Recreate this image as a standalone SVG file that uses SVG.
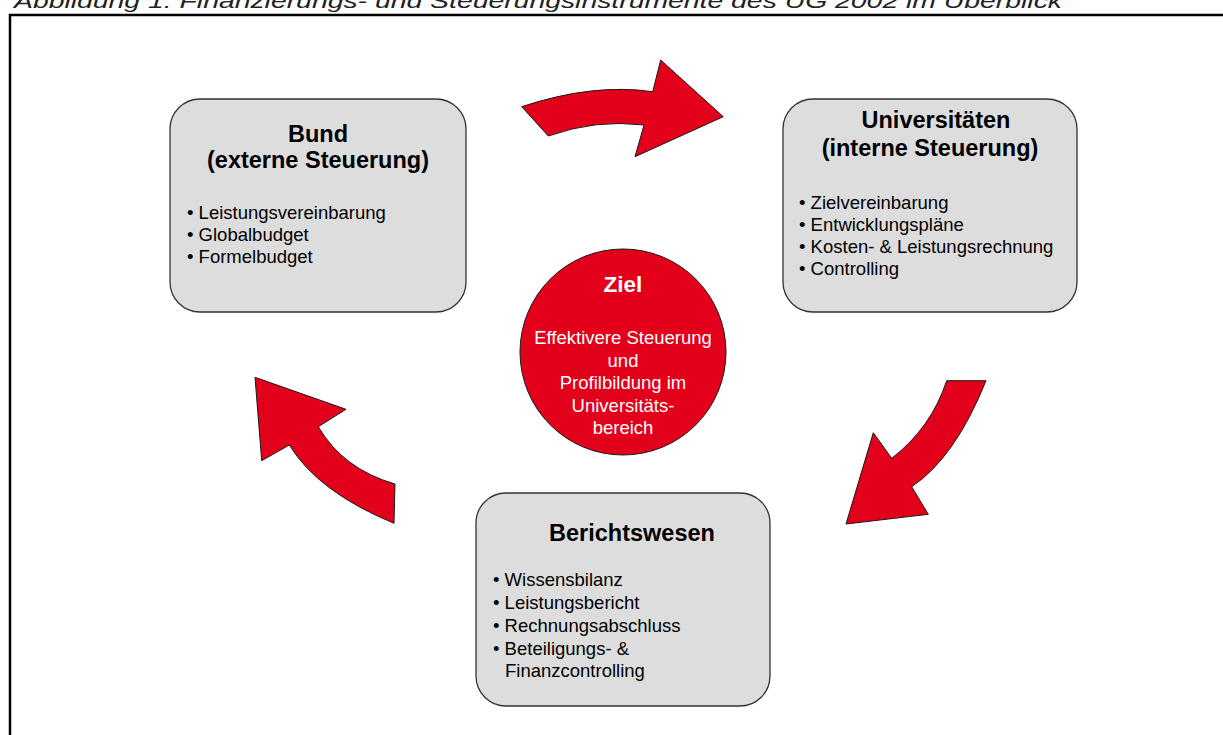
<svg xmlns="http://www.w3.org/2000/svg" width="1223" height="735" viewBox="0 0 1223 735">
<style>
  .box { fill: #dddddd; stroke: #333333; stroke-width: 1.3; }
  .arrow { fill: #e2001a; stroke: #1a1a1a; stroke-width: 1; stroke-linejoin: miter; }
  .hdr { font-family: "Liberation Sans", Arial, sans-serif; font-weight: bold; font-size: 23.5px; fill: #000000; text-anchor: middle; }
  .item { font-family: "Liberation Sans", Arial, sans-serif; font-size: 18.5px; fill: #000000; }
  .zhdr { font-family: "Liberation Sans", Arial, sans-serif; font-weight: bold; font-size: 22.5px; fill: #ffffff; text-anchor: middle; }
  .ztxt { font-family: "Liberation Sans", Arial, sans-serif; font-size: 18.5px; fill: #ffffff; text-anchor: middle; }
  .title { font-family: "Liberation Sans", Arial, sans-serif; font-style: italic; font-size: 21px; fill: #222222; }
</style>
<rect x="0" y="0" width="1223" height="735" fill="#ffffff"/>
<text class="title" x="14" y="7.5" textLength="1048" lengthAdjust="spacingAndGlyphs">Abbildung 1: Finanzierungs- und Steuerungsinstrumente des UG 2002 im Überblick</text>
<rect id="frame" x="10" y="15" width="1240" height="740" fill="none" stroke="#000000" stroke-width="2.5"/>

<g id="connectors">
  <path id="arrow-top" class="arrow" d="M521.7,106.7 Q593,83 652.7,91.7 L660.7,60 L723.3,116.7 L635,156.7 L644,125 Q596,119 548.3,136 Z"/>
  <path id="arrow-right" class="arrow" d="M946.7,380.7 L986,380.7 Q955,458 911.7,486.7 L928.3,514.3 L846,524 L873.3,432.7 L891.7,458.3 Q931,428 946.7,380.7 Z"/>
  <path id="arrow-left" class="arrow" d="M255,377.3 L346,409.3 L318.3,426.7 Q343,469 395,484 L394,523.3 Q318,492 289.3,445 L261.7,460.7 Z"/>
</g>

<g id="node-bund">
  <rect class="box" x="170" y="99" width="296" height="213" rx="30" ry="30"/>
  <text class="hdr" x="318" y="142">Bund</text>
  <text class="hdr" x="318" y="168">(externe Steuerung)</text>
  <text class="item" x="187" y="219">• Leistungsvereinbarung</text>
  <text class="item" x="187" y="241">• Globalbudget</text>
  <text class="item" x="187" y="263">• Formelbudget</text>
</g>

<g id="node-uni">
  <rect class="box" x="783" y="99" width="294" height="213" rx="30" ry="30"/>
  <text class="hdr" x="936" y="128">Universitäten</text>
  <text class="hdr" x="930" y="156">(interne Steuerung)</text>
  <text class="item" x="799" y="209">• Zielvereinbarung</text>
  <text class="item" x="799" y="231">• Entwicklungspläne</text>
  <text class="item" x="799" y="253">• Kosten- &amp; Leistungsrechnung</text>
  <text class="item" x="799" y="275">• Controlling</text>
</g>

<g id="node-ziel">
  <circle cx="623" cy="352" r="103" fill="#e2001a" stroke="#1a1a1a" stroke-width="1"/>
  <text class="zhdr" x="623" y="292">Ziel</text>
  <text class="ztxt" x="623" y="344">Effektivere Steuerung</text>
  <text class="ztxt" x="623" y="367">und</text>
  <text class="ztxt" x="623" y="389">Profilbildung im</text>
  <text class="ztxt" x="623" y="412">Universitäts-</text>
  <text class="ztxt" x="623" y="434">bereich</text>
</g>

<g id="node-bericht">
  <rect class="box" x="476" y="493" width="294" height="213" rx="30" ry="30"/>
  <text class="hdr" x="632" y="541">Berichtswesen</text>
  <text class="item" x="493" y="586">• Wissensbilanz</text>
  <text class="item" x="493" y="609">• Leistungsbericht</text>
  <text class="item" x="493" y="632">• Rechnungsabschluss</text>
  <text class="item" x="493" y="655">• Beteiligungs- &amp;</text>
  <text class="item" x="505" y="677">Finanzcontrolling</text>
</g>
</svg>
